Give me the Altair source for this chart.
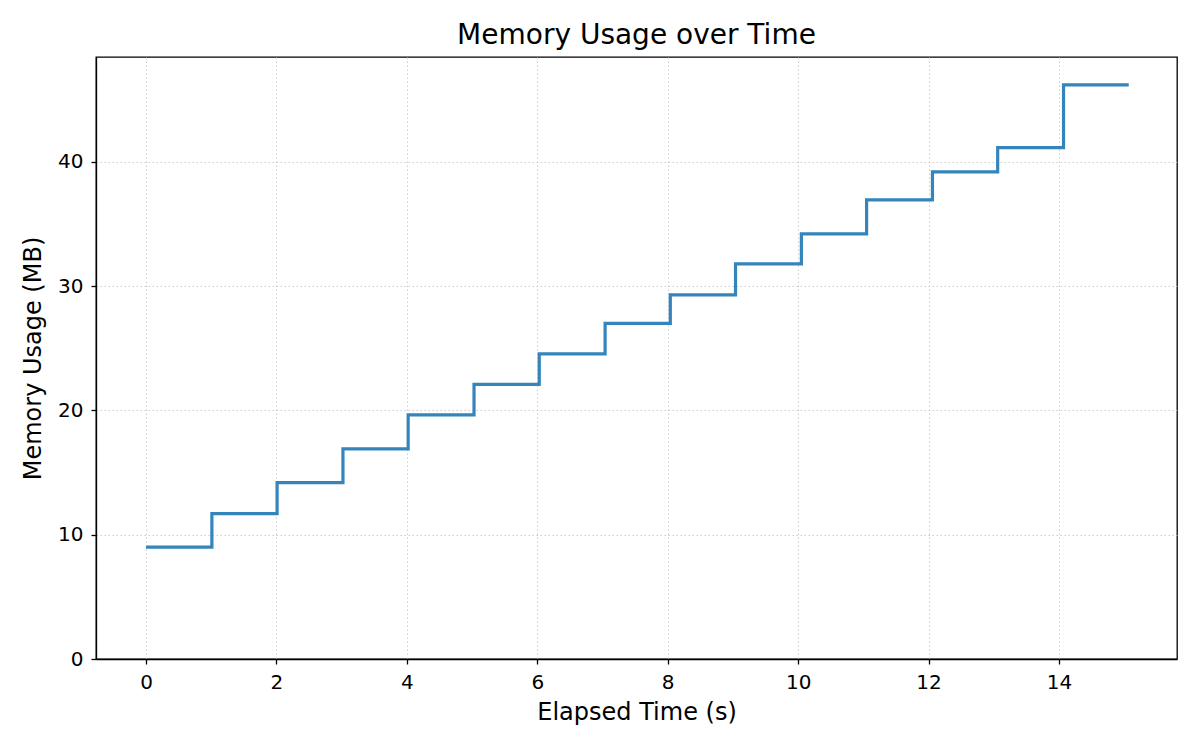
import altair as alt
import pandas as pd

# Elapsed time (s) and memory usage (MB)
times = [0.0, 1.01, 2.01, 3.02, 4.02, 5.03, 6.03, 7.04, 8.04, 9.04,
         10.05, 11.05, 12.06, 13.06, 14.07, 15.07]
memory = [9.0, 11.7, 14.2, 16.9, 19.65, 22.1, 24.55, 27.0, 29.3, 31.8,
          34.2, 36.95, 39.2, 41.15, 46.2, 46.2]
x_ticks = [0, 2, 4, 6, 8, 10, 12, 14]
y_ticks = [0, 10, 20, 30, 40]

df = pd.DataFrame({"t": times, "mem": memory})

FONT = "DejaVu Sans"

chart = (
    alt.Chart(df)
    .mark_line(interpolate="step-after", color="#3585bc", strokeWidth=3.2, clip=True)
    .encode(
        x=alt.X(
            "t:Q",
            scale=alt.Scale(domain=[-0.767, 15.81], nice=False, zero=False),
            axis=alt.Axis(values=x_ticks, title="Elapsed Time (s)", format="d",
                          labelPadding=8, titlePadding=8),
        ),
        y=alt.Y(
            "mem:Q",
            scale=alt.Scale(domain=[0, 48.44], nice=False),
            axis=alt.Axis(values=y_ticks, title="Memory Usage (MB)", format="d",
                          labelPadding=8, titlePadding=12),
        ),
    )
    .properties(
        width=1081,
        height=602,
        title=alt.TitleParams(
            "Memory Usage over Time", font=FONT, fontSize=28, fontWeight="normal",
            color="black", anchor="middle", offset=7,
        ),
        autosize=alt.AutoSizeParams(type="none"),
        padding={"left": 88, "top": 49, "right": 15, "bottom": 84},
    )
    .configure_view(stroke="black", strokeWidth=1.3)
    .configure_axis(
        domainColor="black", domainWidth=1.3,
        tickColor="black", tickWidth=1.3, tickSize=5,
        labelFont=FONT, labelFontSize=20, labelColor="black",
        titleFont=FONT, titleFontSize=24, titleFontWeight="normal", titleColor="black",
        gridColor="#cccccc", gridDash=[1.5, 2.5], gridWidth=1,
    )
)

chart.save("out.html", embed_options={"renderer": "svg", "actions": False})
